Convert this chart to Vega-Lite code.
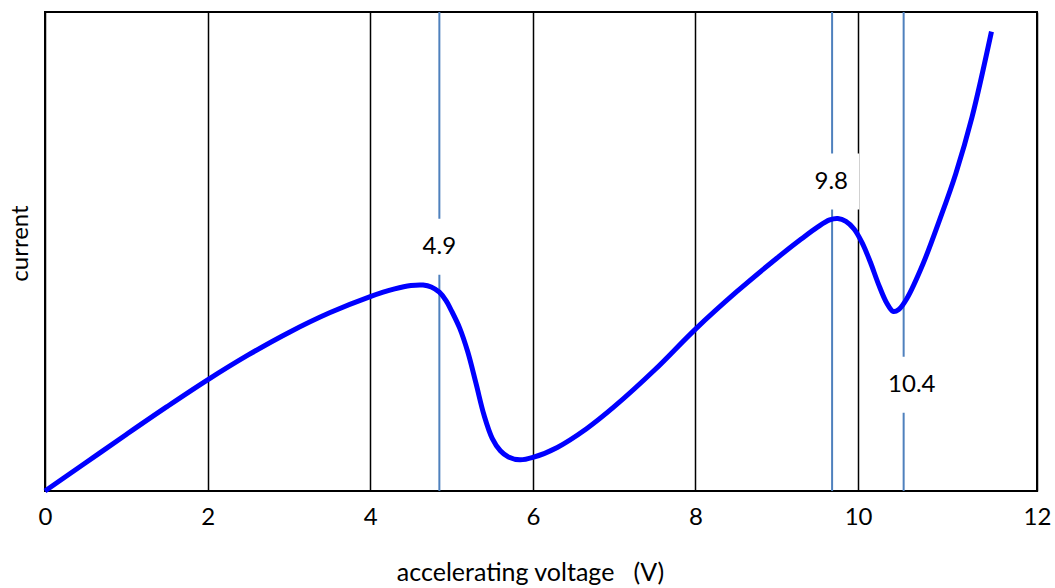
{
  "$schema": "https://vega.github.io/schema/vega-lite/v6.json",
  "width": 992,
  "height": 479,
  "autosize": {"type": "none"},
  "padding": {"left": 45, "top": 12, "right": 18, "bottom": 97},
  "background": "white",
  "config": {
    "view": {"stroke": "#000000", "strokeWidth": 2},
    "font": "Lato",
    "text": {"font": "Lato"}
  },
  "datasets": {
    "curve": [
      {"voltage": 0, "current": 0},
      {"voltage": 0.5, "current": 5.9},
      {"voltage": 1.0, "current": 11.8},
      {"voltage": 1.5, "current": 17.6},
      {"voltage": 2.0, "current": 23.2},
      {"voltage": 2.5, "current": 28.4},
      {"voltage": 3.0, "current": 33.1},
      {"voltage": 3.5, "current": 37.2},
      {"voltage": 4.0, "current": 40.6},
      {"voltage": 4.3, "current": 42.2},
      {"voltage": 4.5, "current": 42.9},
      {"voltage": 4.65, "current": 43.0},
      {"voltage": 4.75, "current": 42.6},
      {"voltage": 4.85, "current": 41.5},
      {"voltage": 4.93, "current": 39.8},
      {"voltage": 5.0, "current": 37.6},
      {"voltage": 5.1, "current": 34.0},
      {"voltage": 5.2, "current": 29.0},
      {"voltage": 5.3, "current": 22.5},
      {"voltage": 5.4, "current": 15.8},
      {"voltage": 5.5, "current": 11.0},
      {"voltage": 5.6, "current": 8.4},
      {"voltage": 5.7, "current": 7.1},
      {"voltage": 5.84, "current": 6.5},
      {"voltage": 6.0, "current": 7.0},
      {"voltage": 6.3, "current": 9.1},
      {"voltage": 6.66, "current": 13.0},
      {"voltage": 7.0, "current": 17.6},
      {"voltage": 7.5, "current": 25.3},
      {"voltage": 8.0, "current": 33.8},
      {"voltage": 8.5, "current": 41.5},
      {"voltage": 9.0, "current": 48.6},
      {"voltage": 9.3, "current": 52.6},
      {"voltage": 9.5, "current": 55.1},
      {"voltage": 9.65, "current": 56.6},
      {"voltage": 9.75, "current": 56.9},
      {"voltage": 9.85, "current": 56.3},
      {"voltage": 9.95, "current": 54.7},
      {"voltage": 10.05, "current": 51.8},
      {"voltage": 10.15, "current": 47.8},
      {"voltage": 10.25, "current": 43.2},
      {"voltage": 10.35, "current": 39.3},
      {"voltage": 10.43, "current": 37.5},
      {"voltage": 10.5, "current": 37.9},
      {"voltage": 10.6, "current": 40.2},
      {"voltage": 10.8, "current": 47.5},
      {"voltage": 11.0, "current": 56.5},
      {"voltage": 11.2, "current": 66.2},
      {"voltage": 11.4, "current": 78.0},
      {"voltage": 11.64, "current": 95.9}
    ],
    "markers": [
      {"voltage": 4.85, "label": "4.9", "label_voltage": 4.85, "label_current": 51.0},
      {"voltage": 9.68, "label": "9.8", "label_voltage": 9.67, "label_current": 64.6},
      {"voltage": 10.56, "label": "10.4", "label_voltage": 10.66, "label_current": 22.2}
    ]
  },
  "layer": [
    {
      "data": {"name": "markers"},
      "mark": {"type": "rule", "color": "#4F81BD", "strokeWidth": 2},
      "encoding": {
        "x": {
          "field": "voltage",
          "type": "quantitative",
          "scale": {"domain": [0, 12.2], "nice": false, "zero": false},
          "axis": {
            "values": [0, 2, 4, 6, 8, 10, 12.2],
            "format": "d",
            "labelExpr": "datum.value > 11 ? '12' : datum.label",
            "labelFlush": false,
            "labelFont": "Lato",
            "labelFontSize": 24,
            "labelColor": "#000000",
            "labelPadding": 14,
            "domain": false,
            "ticks": false,
            "grid": true,
            "gridColor": "#000000",
            "gridWidth": 1.5,
            "gridOpacity": 1,
            "title": "accelerating voltage \u00a0 (V)",
            "titleFont": "Lato",
            "titleFontSize": 25,
            "titleFontWeight": "normal",
            "titleColor": "#000000",
            "titleX": 485,
            "titleY": 89,
            "titleBaseline": "alphabetic"
          }
        },
        "y": {"datum": 0, "type": "quantitative",
          "scale": {"domain": [0, 100], "nice": false},
          "axis": {
            "labels": false,
            "ticks": false,
            "domain": false,
            "grid": false,
            "title": "current",
            "titleFont": "Lato",
            "titleFontSize": 24,
            "titleFontWeight": "normal",
            "titleColor": "#000000",
            "titleAngle": -90,
            "titleX": -25,
            "titleY": 231,
            "titleBaseline": "middle",
            "titleAlign": "center"
          }
        },
        "y2": {"datum": 100}
      }
    },
    {
      "data": {"name": "markers"},
      "mark": {"type": "square", "filled": true, "color": "white", "opacity": 1, "size": 3136},
      "encoding": {
        "x": {"field": "label_voltage", "type": "quantitative"},
        "y": {"field": "label_current", "type": "quantitative"}
      }
    },
    {
      "data": {"name": "curve"},
      "mark": {"type": "line", "color": "#0000FF", "strokeWidth": 5, "interpolate": "catmull-rom"},
      "encoding": {
        "x": {"field": "voltage", "type": "quantitative"},
        "y": {"field": "current", "type": "quantitative"}
      }
    },
    {
      "data": {"name": "markers"},
      "mark": {"type": "text", "font": "Lato", "fontSize": 24, "color": "#000000", "baseline": "middle", "align": "center"},
      "encoding": {
        "x": {"field": "label_voltage", "type": "quantitative"},
        "y": {"field": "label_current", "type": "quantitative"},
        "text": {"field": "label"}
      }
    }
  ]
}
